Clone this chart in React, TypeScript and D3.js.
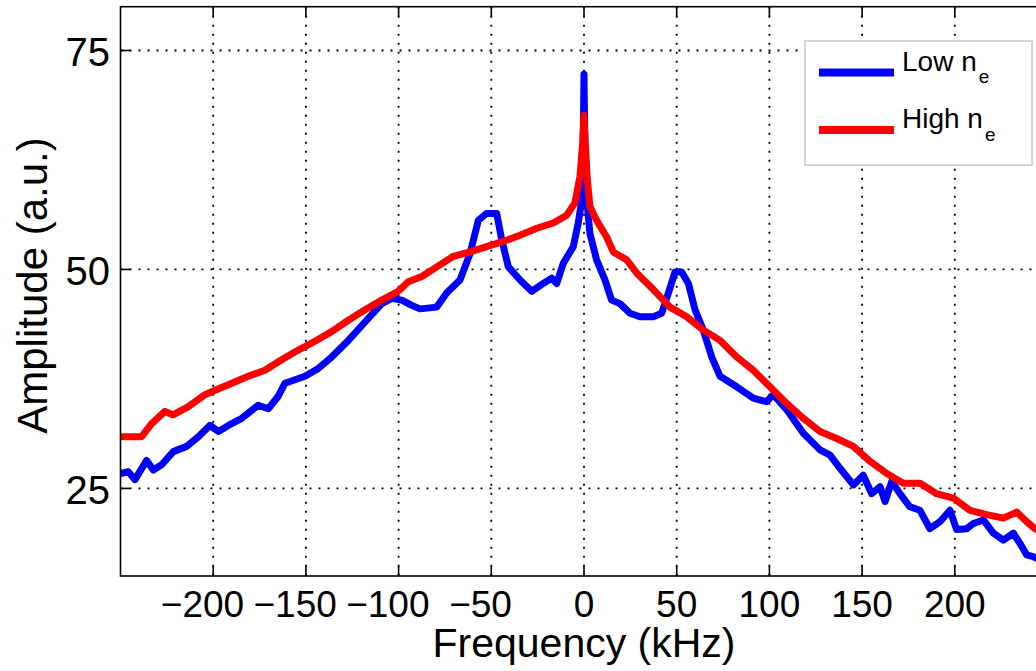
import React from "react";
import * as d3 from "d3";

// Spectrum amplitude vs. frequency for two plasma density regimes
const lowFreq = [-250, -245.8, -242.2, -235.9, -232.3, -227.8, -221.5, -214.3, -208, -201.7, -197.2, -190, -184.6, -175.7, -170.3, -165, -161.3, -150.5, -143.3, -136.1, -127.1, -118.1, -109.1, -103.7, -98.3, -92.9, -88.5, -79.4, -74.1, -66.9, -61.5, -57, -52.5, -47.1, -44.4, -40.8, -34.5, -28.2, -22, -17.4, -14.7, -11.2, -5.8, -3.1, -1.2, -0.5, 0, 0.5, 1.5, 3.2, 6.8, 11.3, 14.9, 19.4, 24.8, 30.2, 37.4, 41.9, 45.5, 49.1, 52.7, 56.3, 59.9, 64.3, 68.9, 73.4, 82.4, 91.3, 98.5, 102.1, 109.3, 118.3, 127.3, 132.7, 138.1, 145.3, 150.6, 155.2, 159.7, 162.4, 166, 170.4, 175.8, 181.2, 186.6, 192, 197.4, 201, 206.4, 210, 215.4, 220.8, 226.2, 231.6, 235.2, 238.8, 242.3, 250];
const lowAmp = [26.7, 26.9, 26.0, 28.2, 27.1, 27.7, 29.2, 29.8, 30.9, 32.2, 31.5, 32.4, 33.0, 34.5, 34.1, 35.5, 37.0, 37.8, 38.7, 40.0, 41.9, 44.0, 46.1, 46.7, 46.5, 45.9, 45.5, 45.7, 47.3, 48.8, 51.8, 55.6, 56.4, 56.4, 53.4, 50.3, 48.8, 47.5, 48.4, 49.0, 48.4, 50.7, 52.6, 55.3, 57.9, 63, 72.3, 63, 57.9, 54.1, 51.1, 48.8, 46.5, 46.1, 45.0, 44.6, 44.6, 45.0, 47.3, 49.7, 49.7, 48.4, 45.4, 43.1, 40.0, 37.8, 36.6, 35.3, 34.9, 35.7, 34.0, 31.3, 29.4, 28.8, 27.3, 25.4, 26.5, 24.4, 25.2, 23.5, 25.8, 24.4, 22.9, 22.5, 20.4, 21.2, 22.5, 20.3, 20.4, 21.0, 21.4, 19.9, 19.1, 19.9, 18.7, 17.4, 17.2, 16.5];

const highFreq = [-250, -238.6, -233.2, -226, -221.7, -213.6, -204.4, -199, -190, -181.1, -172.1, -163.1, -154.1, -145.1, -136.1, -127.1, -118.1, -109.1, -100.2, -94.8, -87.5, -79.4, -70.5, -61.5, -52.5, -43.5, -34.5, -25.5, -16.6, -9.3, -4.9, -2.2, -0.7, 0, 0.7, 1.8, 3.2, 6.8, 12.2, 15.8, 23, 28.4, 37.4, 46.4, 55.4, 64.3, 73.4, 82.4, 91.3, 100.3, 109.3, 118.3, 127.3, 136.3, 145.3, 154.3, 163.3, 172.2, 181.2, 190.2, 199.2, 208.2, 217.2, 226.2, 233.4, 238.8, 243.3, 250];
const highAmp = [30.9, 30.9, 32.4, 33.8, 33.4, 34.3, 35.7, 36.2, 37.0, 37.8, 38.5, 39.7, 40.8, 41.8, 42.9, 44.2, 45.4, 46.5, 47.5, 48.6, 49.2, 50.3, 51.5, 52.0, 52.6, 53.2, 53.9, 54.7, 55.3, 56.2, 57.6, 60.6, 64.5, 67.6, 64.5, 60.2, 57.2, 55.6, 53.7, 52.0, 51.1, 49.6, 47.7, 45.7, 44.6, 43.1, 41.9, 40.0, 38.5, 36.6, 34.7, 33.0, 31.5, 30.7, 29.8, 28.1, 26.7, 25.6, 25.6, 24.4, 23.9, 22.5, 22.0, 21.6, 22.3, 21.2, 20.4, 19.8];

const xTicks = [-200, -150, -100, -50, 0, 50, 100, 150, 200];
const yTicks = [25, 50, 75];

const W = 1036;
const H = 671;
const FONT = "'Liberation Sans', Arial, Helvetica, sans-serif";

const plot = { left: 120.5, right: 1047.5, top: 6.7, bottom: 576 };

export default function App() {
  const x = d3.scaleLinear().domain([-250, 250]).range([plot.left, plot.right]);
  const y = d3.scaleLinear().domain([15, 80]).range([plot.bottom, plot.top]);

  const line = d3
    .line<[number, number]>()
    .x((d) => x(d[0]))
    .y((d) => y(d[1]));

  const lowPts = lowFreq.map((f, i) => [f, lowAmp[i]] as [number, number]);
  const highPts = highFreq.map((f, i) => [f, highAmp[i]] as [number, number]);

  const tickLen = 10;
  const gridDash = "2 7";

  return (
    <svg
      width={W}
      height={H}
      style={{ position: "fixed", left: 0, top: 0, background: "#fff" }}
      fontFamily={FONT}
    >
      <defs>
        <clipPath id="plot-clip">
          <rect x={plot.left} y={plot.top} width={plot.right - plot.left} height={plot.bottom - plot.top} />
        </clipPath>
      </defs>
      <rect x={0} y={0} width={W} height={H} fill="#fff" />

      {/* grid */}
      <g stroke="#000" strokeWidth={1.8} strokeDasharray={gridDash}>
        {xTicks.map((t) => (
          <line key={"gx" + t} x1={x(t)} x2={x(t)} y1={plot.top} y2={plot.bottom} />
        ))}
        {yTicks.map((t) => (
          <line key={"gy" + t} x1={plot.left} x2={plot.right} y1={y(t)} y2={y(t)} />
        ))}
      </g>

      {/* data */}
      <g clipPath="url(#plot-clip)" fill="none" strokeLinejoin="round" strokeLinecap="round">
        <path d={line(lowPts) ?? ""} stroke="#0000ff" strokeWidth={7} />
        <path d={line(highPts) ?? ""} stroke="#ff0000" strokeWidth={7} />
      </g>

      {/* axes box and inward ticks */}
      <g stroke="#000" strokeWidth={1.6} fill="none">
        <rect x={plot.left} y={plot.top} width={plot.right - plot.left} height={plot.bottom - plot.top} />
        {xTicks.map((t) => (
          <g key={"tx" + t}>
            <line x1={x(t)} x2={x(t)} y1={plot.bottom} y2={plot.bottom - tickLen} />
            <line x1={x(t)} x2={x(t)} y1={plot.top} y2={plot.top + tickLen} />
          </g>
        ))}
        {yTicks.map((t) => (
          <g key={"ty" + t}>
            <line x1={plot.left} x2={plot.left + tickLen} y1={y(t)} y2={y(t)} />
            <line x1={plot.right} x2={plot.right - tickLen} y1={y(t)} y2={y(t)} />
          </g>
        ))}
      </g>

      {/* tick labels */}
      <g fontSize={37} fill="#000">
        {xTicks.map((t) => (
          <text
            key={"lx" + t}
            x={x(t)}
            y={617}
            textAnchor="middle"
            dx={t < 0 ? "-0.29em" : 0}
          >
            {t < 0 ? "\u2212" + Math.abs(t) : String(t)}
          </text>
        ))}
      </g>
      <g fontSize={40} fill="#000">
        {yTicks.map((t) => (
          <text key={"ly" + t} x={110} y={y(t) + 15.5} textAnchor="end">
            {t}
          </text>
        ))}
      </g>

      {/* axis titles */}
      <text x={584} y={657} fontSize={41} textAnchor="middle" fill="#000">
        Frequency (kHz)
      </text>
      <text
        transform="translate(47,285.5) rotate(-90)"
        fontSize={42}
        textAnchor="middle"
        fill="#000"
      >
        Amplitude (a.u.)
      </text>

      {/* legend */}
      <g>
        <rect x={805} y={41} width={227} height={124} fill="#fff" stroke="#d4d4d4" strokeWidth={2} />
        <line x1={819} x2={894} y1={72.5} y2={72.5} stroke="#0000ff" strokeWidth={8} />
        <line x1={819} x2={894} y1={130} y2={130} stroke="#ff0000" strokeWidth={8} />
        <text x={902} y={70.7} fontSize={28} fill="#000">
          Low n
          <tspan fontSize={19} dy={12.5} dx={2}>e</tspan>
        </text>
        <text x={902} y={127.5} fontSize={28} fill="#000">
          High n
          <tspan fontSize={19} dy={13} dx={2}>e</tspan>
        </text>
      </g>
    </svg>
  );
}
